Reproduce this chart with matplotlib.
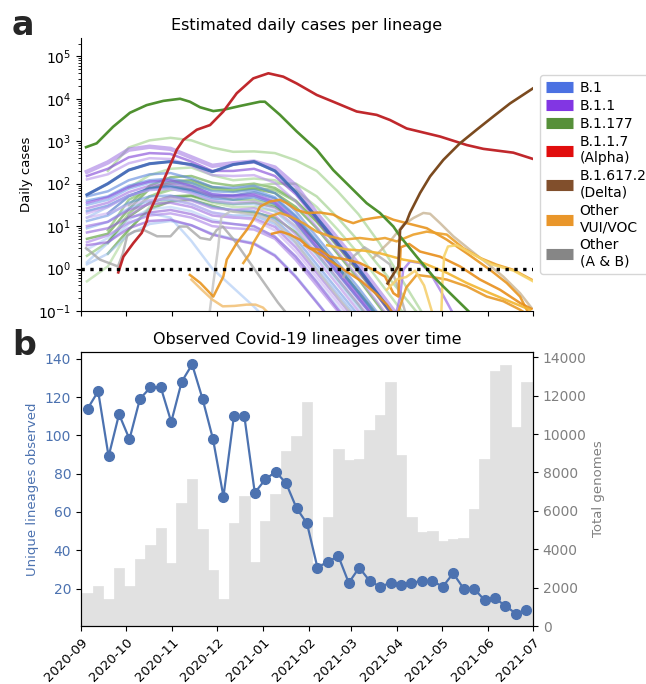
import numpy as np
import matplotlib
matplotlib.use("Agg")
import matplotlib.pyplot as plt
import matplotlib.dates as mdates
from matplotlib.lines import Line2D
from matplotlib.ticker import LogLocator, NullFormatter

plt.rcParams['font.family'] = ['DejaVu Sans']

START = np.datetime64('2020-09-01')
END = np.datetime64('2021-07-01')

# ---------------- Panel a: estimated daily cases (stored as log10 cases) ----------------
# Sub-lineages sampled every two weeks (days since 2020-09-01)
grid_days = [4, 18, 32, 46, 60, 74, 88, 102, 116, 130, 144, 158, 172, 186, 200, 214, 228, 242]

b11_log10 = [
    [2.28, 2.50, 2.80, 2.87, 2.82, 2.62, 2.42, 2.48, 2.52, 2.38, 1.95, 1.30, 0.70, 0.10, -0.55, -1.20],
    [2.18, 2.35, 2.62, 2.72, 2.70, 2.52, 2.30, 2.30, 2.35, 2.18, 1.75, 1.15, 0.55, -0.05, -0.70, -1.35],
    [2.10, 2.22, 2.48, 2.60, 2.58, 2.42, 2.20, 2.18, 2.20, 2.02, 1.58, 0.98, 0.40, -0.20, -0.85, -1.50],
    [1.55, 1.68, 1.92, 2.05, 2.08, 1.95, 1.75, 1.72, 1.75, 1.58, 1.15, 0.55, -0.05, -0.65, -1.30],
    [1.00, 1.10, 1.38, 1.52, 1.55, 1.45, 1.25, 1.20, 1.18, 0.98, 0.50, -0.10, -0.70, -1.30],
    [0.62, 0.78, 1.08, 1.25, 1.30, 1.20, 1.00, 0.95, 0.92, 0.70, 0.20, -0.40, -1.00, -1.60],
    [1.30, 1.45, 1.72, 1.85, 1.88, 1.78, 1.60, 1.55, 1.58, 1.42, 0.98, 0.38, -0.22, -0.82, -1.40],
    [0.55, 0.62, 0.95, 1.12, 1.15, 1.02, 0.80, 0.68, 0.58, 0.30, -0.20, -0.80, -1.40],
    [1.42, 1.55, 1.80, 1.95, 2.00, 1.90, 1.70, 1.68, 1.72, 1.55, 1.10, 0.50, -0.10, -0.70, -1.30],
    [None, None, 1.25, 1.55, 1.70, 1.60, 1.42, 1.38, 1.42, 1.25, 0.80, 0.22, -0.38, -1.00, -1.60],
    [1.20, 1.30, 1.50, 1.62, 1.65, 1.52, 1.32, 1.22, 1.15, 0.90, 0.40, -0.20, -0.80, -1.40],
    [0.85, 0.95, 1.20, 1.32, 1.38, 1.28, 1.10, 1.05, 1.00, 0.75, 0.28, -0.32, -0.95, -1.55],
]
b11_colors = ['#9d6fe0', '#7d3fd6', '#b893ea', '#8a4fe0', '#9b6be0', '#a77ee6',
              '#c3a2ef', '#8f5ad8', '#a070e0', '#b48ce6', '#c9aef0', '#9060d8']

b1_log10 = [
    [1.74, 2.00, 2.32, 2.47, 2.52, 2.45, 2.28, 2.45, 2.52, 2.30, 1.80, 1.20, 0.60, 0.00, -0.65, -1.30],
    [1.70, 1.82, 2.08, 2.22, 2.25, 2.12, 1.92, 1.90, 1.95, 1.78, 1.35, 0.75, 0.15, -0.45, -1.10],
    [1.50, 1.62, 1.88, 2.02, 2.05, 1.95, 1.75, 1.70, 1.72, 1.55, 1.10, 0.50, -0.10, -0.70, -1.30],
    [1.20, 1.45, 1.72, 1.85, 1.88, 1.78, 1.58, 1.52, 1.52, 1.35, 0.92, 0.32, -0.28, -0.90, -1.50],
    [1.12, 1.25, 1.55, 1.70, 1.72, 1.62, 1.45, 1.38, 1.35, 1.15, 0.70, 0.10, -0.50, -1.10],
    [0.15, 0.60, 1.05, 1.30, 1.20, 0.65, 0.00, -0.45, -0.90, -1.40],
    [1.35, 1.48, 1.72, 1.88, 1.92, 1.82, 1.65, 1.62, 1.68, 1.52, 1.08, 0.48, -0.12, -0.72, -1.30],
    [0.95, 1.10, 1.42, 1.60, 1.62, 1.52, 1.32, 1.25, 1.25, 1.05, 0.60, 0.00, -0.60, -1.20],
    [None, 1.30, 1.70, 1.90, 1.95, 1.85, 1.70, 1.72, 1.80, 1.65, 1.22, 0.62, 0.02, -0.58, -1.20],
    [0.45, 0.72, 1.15, 1.40, 1.45, 1.35, 1.15, 1.05, 0.98, 0.75, 0.28, -0.30, -0.90, -1.50],
    [0.10, 0.35, 0.80, 1.05, 1.12, 1.02, 0.82, 0.70, 0.60, 0.32, -0.18, -0.78, -1.40],
    [1.60, 1.70, 1.95, 2.08, 2.12, 2.02, 1.82, 1.80, 1.85, 1.68, 1.25, 0.65, 0.05, -0.55, -1.20],
]
b1_colors = ['#3c64b4', '#5a86dc', '#79a3ea', '#9dbff2', '#6c96e4', '#a6c6f4',
             '#4f7fd8', '#86aeee', '#3a6ac0', '#b5cff6', '#a0c0f0', '#5e8fe0']

b1177_sub_log10 = [
    [None, 2.30, 2.85, 3.02, 3.08, 3.02, 2.85, 2.75, 2.76, 2.72, 2.55, 2.30, 1.82, 1.28, 0.60, -0.20, -1.00, -1.80],
    [None, None, 1.50, 1.95, 2.15, 2.18, 2.02, 1.95, 2.00, 1.90, 1.60, 1.10, 0.52, -0.08, -0.70, -1.35],
    [0.70, 0.82, 1.40, 1.88, 2.05, 2.08, 1.92, 1.85, 1.88, 1.78, 1.45, 0.95, 0.35, -0.25, -0.90, -1.55],
    [0.30, 0.62, 1.30, 1.70, 1.85, 1.88, 1.72, 1.62, 1.62, 1.50, 1.15, 0.62, 0.05, -0.55, -1.20],
    [-0.30, 0.05, 0.90, 1.45, 1.65, 1.70, 1.55, 1.45, 1.45, 1.35, 1.00, 0.50, -0.10, -0.70, -1.30],
    [None, 0.60, 1.22, 1.55, 1.70, 1.72, 1.58, 1.52, 1.55, 1.45, 1.12, 0.62, 0.05, -0.55, -1.15],
    [None, 0.90, 1.62, 1.88, 2.00, 2.02, 1.88, 1.82, 1.90, 1.85, 1.58, 1.12, 0.55, -0.05, -0.65, -1.30],
    [None, None, 1.90, 2.20, 2.35, 2.38, 2.20, 2.08, 2.12, 2.08, 1.85, 1.45, 0.92, 0.35, -0.30, -0.95, -1.60],
    [None, 0.35, 0.92, 1.40, 1.58, 1.62, 1.48, 1.35, 1.32, 1.20, 0.85, 0.35, -0.25, -0.85, -1.50],
    [None, None, 1.30, 1.70, 1.90, 1.95, 1.85, 1.85, 1.95, 2.00, 2.00, 1.70, 1.20, 0.65, 0.05, -0.55, -1.15],
]
b1177_sub_colors = ['#a3d28e', '#6aaa4a', '#5c9e3c', '#8cc474', '#b2dba0',
                    '#4f9432', '#7dbb62', '#a8d896', '#5e9f3f', '#9fcf8a']

# Other variants under investigation / of concern (irregular sampling)
voc_days = [
    [73, 80, 88.7, 95.4, 97.7, 104.4, 111.1, 115.5, 120, 126.7, 133.4, 137.9, 144.6, 151.3, 160.2,
     169.1, 175.8, 182.5, 189.3, 196, 203.8, 209.4, 218.3, 231.8, 245.2, 258.6, 274.2, 285.4,
     294.3, 298.8, 301],
    [108.8, 113.3, 115.5, 122.2, 126.7, 133.4, 140.1, 149, 158, 166.9, 175.8, 187, 196, 203.8,
     211.6, 222.8, 231.8, 245.2, 256.3, 267.5, 278.7, 289.8, 302],
    [128, 134, 140, 146.8, 153.5, 160.2, 166.9, 178.1, 187, 196, 203.8, 209.4, 212.7, 214.3,
     220, 227.3, 240.7, 254.1, 267.5, 280.9, 294.3, 302],
    [165, 178, 190, 200.4, 216.1, 229.5, 245.2, 258.6, 274.2, 289.8, 301],
    [150, 162, 175, 188, 198, 205, 210],
    [212, 218, 225, 234, 245.2, 258.6, 272, 283.1, 294.3, 300],
    [241.5, 242.3, 243.5, 246, 252, 262, 275, 290, 303],
    [74, 81, 88, 95, 103, 111, 117, 122, 127],
    [205, 212, 218, 224, 230, 236],
]
voc_log10 = [
    [-0.15, -0.34, -0.66, -0.19, 0.21, 0.60, 0.91, 1.15, 1.46, 1.58, 1.62, 1.54, 1.38, 1.31, 1.32,
     1.27, 1.15, 1.07, 1.15, 1.19, 1.23, 1.15, 1.07, 0.95, 0.68, 0.36, -0.03, -0.34,
     -0.66, -0.97, -1.10],
    [0.13, 0.36, 0.60, 0.99, 1.23, 1.31, 1.23, 1.07, 0.87, 0.76, 0.68, 0.72, 0.68, 0.72,
     0.64, 0.80, 0.87, 0.80, 0.48, 0.25, 0.09, -0.03, -0.26],
    [0.82, 0.87, 0.80, 0.68, 0.48, 0.44, 0.28, 0.21, 0.13, -0.03, -0.19, -0.58, -0.66, 0.50,
     0.58, 0.40, 0.28, 0.05, -0.26, -0.50, -0.81, -0.95],
    [0.55, 0.45, 0.42, 0.36, 0.21, 0.13, -0.10, -0.34, -0.58, -0.81, -0.97],
    [0.55, 0.30, 0.00, -0.30, -0.60, -0.85, -1.10],
    [-1.10, -0.45, -0.15, -0.19, -0.26, -0.42, -0.66, -0.77, -0.97, -1.10],
    [-1.10, -0.30, 0.30, 0.52, 0.55, 0.35, 0.10, -0.05, -0.30],
    [-0.26, -0.50, -0.73, -0.89, -0.88, -0.85, -0.85, -0.92, -1.10],
    [-0.50, -0.25, -0.20, -0.05, -0.40, -1.10],
]
voc_colors = ['#e8951f', '#eba02a', '#e88e1a', '#f2b530', '#e8901e',
              '#e89a28', '#f7d46a', '#f2c27a', '#f5d070']

# Other A & B lineages
other_days = [
    [3.4, 12.7, 24.8, 28, 31, 36, 42, 51, 60, 66, 71, 80, 86.5, 91, 95, 102, 112, 122, 132, 140],
    [86, 88.7, 92, 94, 100, 110, 120, 130, 142, 155, 165, 175, 185],
    [176, 183, 190, 200, 207, 212, 218],
    [196, 203, 207.1, 216.1, 222.8, 229.5, 234, 240.7, 249.6, 260.8, 272, 283.1, 294.3, 302.1],
]
other_log10 = [
    [0.48, 0.21, 0.05, 0.35, 0.78, 0.88, 0.91, 0.76, 0.76, 0.99, 0.99, 0.72, 0.68, 0.91, 0.99,
     0.70, 0.20, -0.30, -0.80, -1.15],
    [-1.10, -0.34, 0.50, 1.20, 1.35, 1.30, 1.25, 1.10, 0.70, 0.10, -0.35, -0.80, -1.20],
    [-0.20, 0.30, 0.50, 0.28, 0.10, -0.40, -1.10],
    [0.25, 0.50, 0.64, 1.03, 1.19, 1.31, 1.29, 1.07, 0.76, 0.44, 0.13, -0.19, -0.58, -0.93],
]
other_colors = ['#a8a8a8', '#c2c2c2', '#b0b0b0', '#c8b494']

# A late B.1.1 sub-lineage
b11_late_days = [211, 213.9, 216, 220.6, 227.3, 234, 240.7, 248.5]
b11_late_log10 = [-1.10, -0.66, -0.03, 0.17, 0.13, -0.10, -0.50, -1.00]

# Dominant lineages
b1177_days = [3.4, 10.5, 21.5, 32.8, 44, 55.2, 66.4, 73, 79.8, 88.7, 95.4, 106.6, 120, 123.3,
              133.4, 144.6, 158, 169.1, 180.3, 191.5, 200.4, 209.4, 213.9, 225, 236.2, 247.4, 259.6]
b1177_log10 = [2.86, 2.95, 3.34, 3.67, 3.85, 3.95, 4.00, 3.93, 3.80, 3.71, 3.74, 3.83, 3.93, 3.93,
               3.62, 3.23, 2.80, 2.32, 1.93, 1.54, 1.31, 0.99, 0.76, 0.28, -0.19, -0.58, -1.00]

alpha_days = [25, 28.4, 35.1, 40.7, 44, 45.1, 50.7, 57.5, 64.2, 68.6, 77.6, 86.5, 95.4, 104.4,
              115.5, 125.6, 135.6, 144.6, 158, 169.1, 184.8, 198.2, 207.1, 218.3, 240.7, 258.6,
              269.7, 289.8, 303.2]
alpha_log10 = [-0.09, 0.28, 0.60, 0.84, 1.11, 1.27, 1.70, 2.25, 2.80, 3.03, 3.27, 3.38, 3.70, 4.13,
               4.48, 4.60, 4.52, 4.36, 4.09, 3.93, 3.70, 3.62, 3.50, 3.30, 3.11, 2.91,
               2.82, 2.73, 2.58]

delta_days = [205.5, 207.1, 212.7, 213.9, 218.3, 220.5, 227.3, 234, 242.9, 254, 265.2, 276.3,
              287.6, 303.2]
delta_log10 = [-0.35, -0.26, 0.05, 0.91, 1.11, 1.31, 1.78, 2.17, 2.56, 2.95, 3.27, 3.58,
               3.89, 4.25]

legend_labels = ['B.1', 'B.1.1', 'B.1.177', 'B.1.1.7\n(Alpha)', 'B.1.617.2\n(Delta)',
                 'Other\nVUI/VOC', 'Other\n(A & B)']
legend_colors = ['#4169e1', '#7b2be2', '#4d8a2e', '#e00000', '#7a4520', '#e8901e', '#808080']

# ---------------- Panel b: observed lineages per week ----------------
week_start = np.arange(np.datetime64('2020-09-02'), np.datetime64('2021-07-01'),
                       np.timedelta64(7, 'D'))[:43]
unique_lineages = [114, 123, 89, 111, 98, 119, 125, 125, 107, 128, 137, 119, 98, 68, 110,
                   110, 70, 77, 81, 75, 62, 54, 31, 34, 37, 23, 31, 24, 21, 23,
                   22, 23, 24, 24, 21, 28, 20, 20, 14, 15, 11, 7, 9]
total_genomes = [1700, 2100, 1400, 3000, 2100, 3500, 4200, 5100, 3300, 6400, 7650, 5050,
                 2900, 1400, 5350, 6800, 3350, 5450, 6900, 9100, 9900, 11700, 3300, 5700,
                 9250, 8650, 8700, 10200, 11000, 12700, 8900, 5700, 4900, 4950, 4450, 4550,
                 4600, 6100, 8700, 13300, 13600, 10350, 12700]

# ---------------- Drawing ----------------
W, H = 646, 684
fig = plt.figure(figsize=(W / 100, H / 100), dpi=100)
ax_a = fig.add_axes([81 / W, 1 - 311 / H, 452 / W, 273 / H])
ax_b = fig.add_axes([81 / W, 1 - 626 / H, 452 / W, 274 / H])

x0 = mdates.date2num(START)
x1 = mdates.date2num(END)


def cases(vals):
    return 10 ** np.array(vals, dtype=float)


def grid_x(n):
    return x0 + np.array(grid_days[:n], dtype=float)


for vals, c in zip(b1177_sub_log10, b1177_sub_colors):
    ax_a.plot(grid_x(len(vals)), cases(vals), color=c, lw=1.8, alpha=0.65)
for vals, c in zip(b1_log10, b1_colors):
    ax_a.plot(grid_x(len(vals)), cases(vals), color=c, lw=1.8, alpha=0.6)
for i, (vals, c) in enumerate(zip(b11_log10, b11_colors)):
    ax_a.plot(grid_x(len(vals)), cases(vals), color=c, lw=3.2 if i == 0 else 1.8,
              alpha=0.55 if i == 0 else 0.6)
# emphasise the largest B.1 sub-lineage
ax_a.plot(grid_x(len(b1_log10[0])), cases(b1_log10[0]), color=b1_colors[0], lw=2.2, alpha=0.8)

for d, vals, c in zip(other_days, other_log10, other_colors):
    ax_a.plot(x0 + np.array(d), cases(vals), color=c, lw=1.8, alpha=0.8)
ax_a.plot(x0 + np.array(b11_late_days), cases(b11_late_log10), color='#a57de8', lw=1.8, alpha=0.8)
for d, vals, c in zip(voc_days, voc_log10, voc_colors):
    ax_a.plot(x0 + np.array(d), cases(vals), color=c, lw=1.8, alpha=0.9)

ax_a.plot(x0 + np.array(b1177_days), cases(b1177_log10), color='#4f9130', lw=1.9)
ax_a.plot(x0 + np.array(alpha_days), cases(alpha_log10), color='#c0282c', lw=1.9)
ax_a.plot(x0 + np.array(delta_days), cases(delta_log10), color='#7b4a1f', lw=1.9)

ax_a.axhline(1, color='black', ls=':', lw=2.4, zorder=5)

ax_a.set_yscale('log')
ax_a.set_ylim(0.1, 2.7e5)
ax_a.set_xlim(x0, x1)
ax_a.yaxis.set_major_locator(LogLocator(base=10, numticks=15))
ax_a.yaxis.set_minor_locator(LogLocator(base=10, subs=np.arange(2, 10), numticks=15))
ax_a.yaxis.set_minor_formatter(NullFormatter())
ax_a.xaxis.set_major_locator(mdates.MonthLocator())
ax_a.tick_params(labelbottom=False, labelsize=10)
for s in ('top', 'right'):
    ax_a.spines[s].set_visible(False)
ax_a.set_ylabel('Daily cases', fontsize=9.5)
ax_a.set_title('Estimated daily cases per lineage', fontsize=11.5)

handles = [Line2D([0], [0], color=c, lw=8, alpha=0.95, solid_capstyle='butt')
           for c in legend_colors]
ax_a.legend(handles, legend_labels, loc='center left', bbox_to_anchor=(1.0, 0.5),
            fontsize=10, handlelength=2.0, handletextpad=0.45, labelspacing=0.3,
            borderaxespad=0.5)

# Panel b
ax_b2 = ax_b.twinx()
wx = mdates.date2num(week_start)
ax_b2.bar(wx, total_genomes, width=7, align='edge', color='#e1e1e1',
          edgecolor='#e1e1e1', linewidth=0.5)
ax_b.plot(wx + 3.5, unique_lineages, '-o', color='#4c72b0', lw=1.6, ms=7)
ax_b.set_zorder(ax_b2.get_zorder() + 1)
ax_b.patch.set_visible(False)

ax_b.set_xlim(x0, x1)
ax_b.xaxis.set_major_locator(mdates.MonthLocator())
ax_b.xaxis.set_major_formatter(mdates.DateFormatter('%Y-%m'))
ax_b.tick_params(axis='x', labelsize=9.5)
for lab in ax_b.get_xticklabels():
    lab.set_rotation(45)
    lab.set_ha('right')
    lab.set_rotation_mode('anchor')
ax_b.tick_params(axis='y', labelsize=10, labelcolor='#4c72b0')
ax_b2.tick_params(axis='y', labelcolor='#808080', labelsize=10)
ax_b.set_ylabel('Unique lineages observed', color='#4c72b0', fontsize=9.5)
ax_b2.set_ylabel('Total genomes', color='#808080', fontsize=9.5)
ax_b.set_title('Observed Covid-19 lineages over time', fontsize=11.5)

fig.text(12 / W, 1 - 35 / H, 'a', fontsize=24, fontweight='bold', color='#262626', va='baseline')
fig.text(12 / W, 1 - 355 / H, 'b', fontsize=24, fontweight='bold', color='#262626', va='baseline')

fig.savefig('out.png', dpi=100)
